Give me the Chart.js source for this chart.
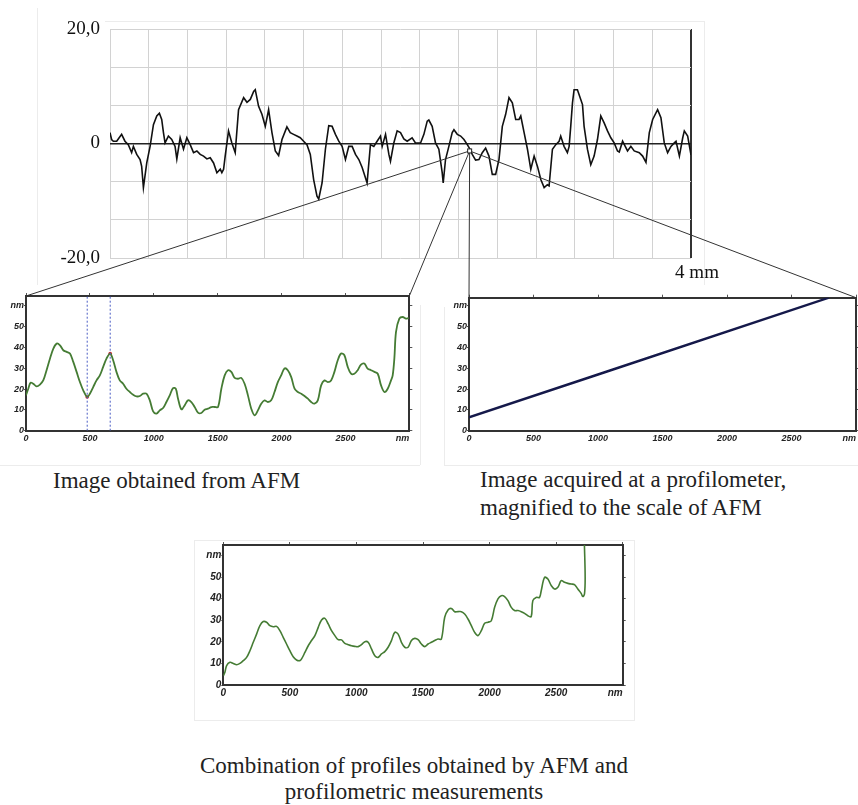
<!DOCTYPE html>
<html><head><meta charset="utf-8">
<script src="https://cdn.jsdelivr.net/npm/chart.js@4/dist/chart.umd.min.js"></script>
<style>
html,body{margin:0;padding:0;background:#fff;}
body{width:858px;height:805px;position:relative;overflow:hidden;}
.pos{position:absolute;}
.cap{position:absolute;font-family:'Liberation Serif','Times New Roman',serif;font-size:23px;color:#222;white-space:nowrap;}
.fl{position:absolute;background:#ececec;}
</style></head>
<body>
<!-- faint borders of the pasted pictures -->
<div class="fl" style="left:37px;top:8px;width:1px;height:277px"></div>
<div class="fl" style="left:105px;top:21px;width:600px;height:1px"></div>
<div class="fl" style="left:704px;top:21px;width:1px;height:264px"></div>
<div class="fl" style="left:0px;top:465px;width:420px;height:1px"></div>
<div class="fl" style="left:420px;top:305px;width:1px;height:160px"></div>
<div class="fl" style="left:444px;top:307px;width:1px;height:158px"></div>
<div class="fl" style="left:444px;top:465px;width:414px;height:1px"></div>
<div class="fl" style="left:194px;top:540px;width:440px;height:1px"></div>
<div class="fl" style="left:194px;top:540px;width:1px;height:180px"></div>
<div class="fl" style="left:634px;top:540px;width:1px;height:180px"></div>
<div class="fl" style="left:194px;top:720px;width:441px;height:1px"></div>

<canvas id="cTop" class="pos" style="left:0;top:0" width="720" height="290"></canvas>
<canvas id="cAfm" class="pos" style="left:0;top:285px" width="430" height="165"></canvas>
<canvas id="cProf" class="pos" style="left:443px;top:285px" width="415" height="165"></canvas>
<canvas id="cCombo" class="pos" style="left:195px;top:535px" width="440" height="175"></canvas>

<div class="cap" style="left:53px;top:467px;line-height:28px">Image obtained from AFM</div>
<div class="cap" style="left:480px;top:466px;line-height:28px">Image acquired at a profilometer,<br>magnified to the scale of AFM</div>
<div class="cap" style="left:164px;top:753px;width:500px;text-align:center;line-height:26px">Combination of profiles obtained by AFM and<br>profilometric measurements</div>

<canvas id="overlay" class="pos" style="left:0;top:0;pointer-events:none" width="858" height="805"></canvas>

<script>
// ---------- Top profile (profilometer, 4 mm, values in µm) ----------
const topX = [
0.000,0.011,0.023,0.046,0.057,0.080,0.103,0.126,0.149,0.161,
0.184,0.207,0.218,0.230,0.253,0.276,0.299,0.322,0.340,0.356,
0.368,0.379,0.402,0.425,0.448,0.460,0.483,0.506,0.529,0.552,
0.575,0.598,0.621,0.644,0.667,0.690,0.713,0.736,0.759,0.770,
0.782,0.793,0.816,0.839,0.862,0.885,0.920,0.943,0.966,0.989,
1.000,1.023,1.046,1.069,1.092,1.115,1.138,1.161,1.184,1.218,
1.241,1.264,1.287,1.310,1.333,1.356,1.379,1.402,1.425,1.437,
1.460,1.483,1.506,1.529,1.552,1.575,1.598,1.621,1.644,1.667,
1.690,1.713,1.736,1.770,1.793,1.816,1.839,1.862,1.874,1.897,
1.920,1.931,1.954,1.977,2.000,2.023,2.046,2.080,2.103,2.138,
2.161,2.184,2.195,2.218,2.241,2.264,2.287,2.294,2.310,2.333,
2.356,2.368,2.391,2.414,2.437,2.460,2.478,2.494,2.517,2.540,
2.563,2.586,2.609,2.632,2.655,2.678,2.701,2.724,2.747,2.770,
2.793,2.816,2.828,2.851,2.874,2.897,2.920,2.943,2.966,2.989,
3.011,3.023,3.046,3.069,3.092,3.103,3.126,3.149,3.161,3.172,
3.184,3.195,3.218,3.241,3.253,3.264,3.287,3.310,3.333,3.356,
3.379,3.402,3.425,3.448,3.471,3.494,3.506,3.529,3.563,3.586,
3.609,3.644,3.667,3.690,3.713,3.736,3.770,3.793,3.816,3.839,
3.862,3.885,3.897,3.920,3.943,3.954,3.977,4.000];
const topY = [
1.9,0.7,0.4,0.4,0.8,1.6,0.4,-0.2,-1.6,-0.5,
-1.9,-2.8,-4.0,-7.7,-3.4,-0.5,3.3,4.8,5.3,4.2,
1.9,0.1,1.3,0.7,-0.5,-2.7,1.0,-1.0,1.0,-0.2,
-1.6,-1.3,-1.9,-2.2,-2.7,-2.5,-3.4,-5.1,-4.5,-5.1,
-4.5,-2.2,2.2,0.1,-1.6,5.9,8.0,7.2,7.7,9.1,
9.4,6.5,5.1,3.0,5.9,1.9,-1.3,-2.1,0.7,2.9,
1.9,1.6,1.3,1.0,0.4,-0.2,-1.9,-6.3,-9.2,-9.7,
-6.9,-1.0,3.1,3.0,1.6,0.4,-0.5,-2.8,-0.5,-0.5,
-1.9,-2.8,-4.2,-6.9,-0.2,-0.5,0.4,1.3,-0.5,1.6,
-1.9,-3.1,0.1,2.2,1.9,0.8,0.4,1.0,0.1,0.1,
1.6,3.9,4.1,3.0,0.1,-1.0,-5.1,-6.9,-2.8,-0.5,
1.9,2.4,1.6,1.3,0.7,-0.2,-1.0,-1.9,-2.9,-2.8,
-1.6,-0.8,-2.2,-5.4,-5.4,-2.8,3.0,5.1,8.0,7.1,
4.2,4.2,4.8,1.9,-1.0,-4.5,-2.2,-4.0,-6.3,-7.7,
-7.2,-7.4,-1.0,-0.2,0.4,1.3,-0.5,-1.6,-0.5,3.0,
7.1,9.4,9.4,7.7,6.8,3.0,-1.0,-3.7,-2.2,0.7,
4.8,3.6,2.2,1.0,0.1,-1.3,-1.5,0.4,-1.3,-0.5,
-1.3,-1.6,-2.2,-3.3,1.9,4.2,5.9,4.5,0.1,-1.6,
-0.5,0.1,0.4,-2.2,1.0,2.2,1.3,-2.0];
const topGridX = [0,0.2667,0.5333,0.8,1.0667,1.3333,1.6,1.8667,2.1333,2.4,2.6667,2.9333,3.2,3.4667,3.7333,4];
const topGridY = [-20,-13.333,-6.667,0,6.667,13.333,20];
const topYLabels = {"20":"20,0","0":"0","-20":"-20,0"};
const topXLabel = "4 mm";
const zoomAt = {x:2.476, y:-1.3};   // spot magnified below

// ---------- AFM profile (nm) ----------
const afmX = [
0,18,36,57,83,109,135,161,188,214,
240,266,292,318,344,370,396,422,448,479,
500,526,552,578,604,630,659,682,708,734,
760,786,813,839,865,891,917,943,969,995,
1021,1047,1073,1099,1125,1151,1172,1190,1216,1242,
1268,1294,1320,1346,1372,1398,1424,1451,1477,1503,
1529,1555,1581,1607,1633,1659,1685,1711,1737,1763,
1789,1815,1841,1867,1893,1919,1945,1971,1997,2023,
2049,2076,2102,2128,2154,2180,2206,2232,2258,2284,
2310,2336,2362,2388,2414,2440,2466,2492,2518,2544,
2570,2596,2622,2648,2674,2701,2727,2753,2779,2805,
2831,2857,2870,2883,2896,2922,2948,2974,2995];
const afmY = [
17.0,20.2,23.1,22.6,21.3,22.2,24.2,29.1,34.7,39.5,
41.9,41.1,38.7,37.9,37.1,33.1,28.3,23.4,19.4,16.2,
17.8,21.0,24.2,26.6,30.7,34.7,37.1,33.9,28.3,24.2,
22.6,20.2,18.6,17.3,16.5,16.7,17.8,17.8,14.6,9.3,
8.2,9.8,10.9,13.8,17.0,20.5,20.2,15.4,10.3,12.2,
14.6,13.8,11.4,8.7,8.5,10.1,10.6,11.4,11.4,11.4,
20.2,26.6,29.1,28.3,25.4,25.0,25.4,22.6,17.0,10.6,
7.4,9.8,13.0,14.6,13.8,14.6,18.6,23.4,26.6,29.9,
29.1,25.8,20.2,18.6,17.8,16.7,15.4,13.8,13.0,14.6,
21.8,24.2,23.4,24.2,28.3,33.9,37.1,36.3,30.7,27.4,
27.4,29.1,31.8,32.3,29.9,29.1,28.3,27.4,21.8,18.6,
20.2,24.2,26.6,34.7,47.5,53.9,54.7,53.9,54.3];
const afmMarkX = [479, 659];
const afmMarkY = [16.2, 37.1];

// ---------- Profilometer, magnified to AFM scale ----------
const profX = [0, 1000, 2790];
const profY = [6.4, 27.0, 63.9];

// ---------- Combination ----------
const comboX = [
0,12,25,50,75,100,125,150,175,200,
225,250,275,300,325,350,375,400,425,450,
475,500,525,550,575,588,613,638,663,688,
713,738,763,788,813,838,863,888,913,938,
963,988,1013,1038,1063,1088,1113,1138,1163,1188,
1213,1238,1263,1288,1313,1338,1363,1388,1413,1438,
1463,1488,1513,1538,1563,1588,1613,1638,1663,1688,
1713,1738,1763,1788,1813,1838,1863,1888,1913,1938,
1963,1988,2013,2038,2063,2088,2113,2138,2163,2188,
2213,2238,2263,2288,2313,2325,2350,2375,2388,2413,
2438,2463,2488,2513,2538,2563,2588,2613,2638,2663,
2688,2700,2713,2718,2712];
const comboY = [
4.3,5.9,9.0,10.5,10.0,9.4,10.0,11.3,12.8,15.9,
19.8,23.6,27.5,29.4,29.1,27.5,27.0,27.2,25.2,22.1,
19.0,15.9,13.1,11.6,11.3,12.1,15.1,18.2,20.6,22.9,
26.7,30.1,30.9,28.3,25.2,22.9,21.0,20.9,19.3,18.7,
18.2,17.9,17.8,18.7,20.1,19.8,16.7,13.6,12.8,14.4,
15.5,17.5,20.6,24.4,23.6,19.8,17.5,17.5,20.6,21.6,
21.0,19.0,17.8,19.0,19.8,20.6,21.3,21.3,31.4,34.8,
35.5,34.0,34.0,34.0,32.9,30.6,27.5,24.4,22.9,25.2,
28.6,29.1,29.8,36.0,39.9,41.4,41.0,39.1,36.0,34.5,
34.5,34.0,33.2,32.1,31.7,39.1,40.6,40.6,43.7,49.9,
49.1,46.1,44.5,45.3,48.4,47.6,47.1,46.8,46.5,44.5,
42.5,41.0,42.2,50.0,66.0];

const nmTicksY = [0,10,20,30,40,50,60];
const nmTicksX = [0,500,1000,1500,2000,2500,3000];
const unitLabel = "nm";

const pts = (xs, ys) => xs.map((x, i) => ({x, y: ys[i]}));
const GREEN = '#457c34';

// ---------- top chart ----------
const serif = 'Liberation Serif';
const lastX = topGridX.length - 1;
const topChart = new Chart(document.getElementById('cTop'), {
  type: 'scatter',
  data: {datasets: [{data: pts(topX, topY), showLine: true, borderColor: '#111', borderWidth: 1.6,
    pointRadius: 0, tension: 0}]},
  options: {
    responsive: false, animation: false, devicePixelRatio: 1, events: [],
    layout: {padding: {top: 29, right: 29, left: 0, bottom: 0}},
    plugins: {legend: {display: false}, tooltip: {enabled: false}},
    scales: {
      x: {type: 'linear', min: 0, max: 4,
        afterBuildTicks: s => { s.ticks = topGridX.map(v => ({value: v})); },
        ticks: {autoSkip: false, maxRotation: 0, padding: 4, labelOffset: 6,
          callback: (v, i) => i === lastX ? topXLabel : '',
          font: {family: serif, size: 19}, color: '#111'},
        grid: {drawTicks: false,
          color: c => c.index === lastX ? '#333' : '#d2d2d2',
          lineWidth: c => c.index === lastX ? 2 : 1},
        border: {display: false},
        afterFit: s => { s.height = 32; }},
      y: {min: -20, max: 20,
        afterBuildTicks: s => { s.ticks = topGridY.map(v => ({value: v})); },
        ticks: {autoSkip: false, padding: 10,
          callback: v => topYLabels[String(v)] ?? '',
          font: {family: serif, size: 19}, color: '#111'},
        grid: {drawTicks: false,
          color: c => c.tick && c.tick.value === 0 ? '#222' : '#d2d2d2',
          lineWidth: c => c.tick && c.tick.value === 0 ? 1.6 : 1},
        border: {display: false},
        afterFit: s => { s.width = 110; }}
    }
  }
});

// ---------- small AFM-style charts ----------
const unitPlugin = {
  id: 'unitX',
  afterDraw(chart, args, opts) {
    const ctx = chart.ctx, a = chart.chartArea;
    ctx.save();
    ctx.font = `italic bold ${opts.size}px "Liberation Sans", Arial, sans-serif`;
    ctx.fillStyle = '#222';
    ctx.textAlign = 'right';
    ctx.textBaseline = 'top';
    ctx.fillText(unitLabel, a.right, a.bottom + 3);
    ctx.restore();
  }
};

function smallChart(id, ymax, dims, fontSize, datasets) {
  const f = {family: 'Liberation Sans', size: fontSize, weight: 'bold', style: 'italic'};
  const setY = s => { s.ticks = nmTicksY.map(v => ({value: v})); };
  const setX = s => { s.ticks = nmTicksX.map(v => ({value: v})); };
  return new Chart(document.getElementById(id), {
    type: 'scatter',
    data: {datasets},
    options: {
      responsive: false, animation: false, devicePixelRatio: 1, events: [],
      layout: {padding: 0},
      plugins: {legend: {display: false}, tooltip: {enabled: false}, unitX: {size: fontSize}},
      scales: {
        x: {type: 'linear', position: 'bottom', min: 0, max: 3000, afterBuildTicks: setX,
          ticks: {autoSkip: false, maxRotation: 0, padding: 2, font: f, color: '#222',
            callback: v => v === 3000 ? '' : v},
          grid: {drawOnChartArea: false, drawTicks: false},
          border: {color: '#333', width: 2},
          afterFit: s => { s.height = dims.bottom; }},
        x2: {type: 'linear', position: 'top', min: 0, max: 3000, afterBuildTicks: setX,
          ticks: {display: false},
          grid: {drawOnChartArea: false, tickLength: 3, color: '#555'},
          border: {color: '#333', width: 2},
          afterFit: s => { s.height = dims.top; }},
        y: {type: 'linear', position: 'left', min: 0, max: ymax, afterBuildTicks: setY,
          ticks: {autoSkip: false, padding: 0, font: f, color: '#222',
            callback: v => v === 60 ? unitLabel : v},
          grid: {drawOnChartArea: false, tickLength: 2, color: '#555'},
          border: {color: '#333', width: 2},
          afterFit: s => { s.width = dims.left; }},
        y2: {type: 'linear', position: 'right', min: 0, max: ymax, afterBuildTicks: setY,
          ticks: {display: false},
          grid: {drawOnChartArea: false, tickLength: 3, color: '#555'},
          border: {color: '#333', width: 2},
          afterFit: s => { s.width = dims.right; }}
      }
    },
    plugins: [unitPlugin]
  });
}

const afmMax = 64.8;
const afmChart = smallChart('cAfm', afmMax, {left: 26, right: 20.7, top: 11, bottom: 19.3}, 9, [
  ...afmMarkX.map(x => ({data: [{x, y: 0}, {x, y: afmMax}], showLine: true, borderColor: '#4a5cc4',
    borderWidth: 1, borderDash: [2, 2], pointRadius: 0})),
  {data: pts(afmX, afmY), showLine: true, borderColor: GREEN, borderWidth: 1.8, pointRadius: 0, tension: 0.35},
  {data: pts(afmMarkX, afmMarkY), showLine: false, pointRadius: 1.8, pointBackgroundColor: '#d42020',
    pointBorderWidth: 0}
]);

const profChart = smallChart('cProf', 63.9, {left: 26, right: 1.3, top: 12.7, bottom: 19.3}, 9, [
  {data: pts(profX, profY), showLine: true, borderColor: '#15194a', borderWidth: 2.4, pointRadius: 0, tension: 0}
]);

const comboChart = smallChart('cCombo', 64.9, {left: 28.3, right: 12.3, top: 10, bottom: 25}, 10, [
  {data: pts(comboX, comboY), showLine: true, borderColor: GREEN, borderWidth: 1.6, pointRadius: 0, tension: 0.35}
]);

// ---------- connector lines (zoom-in guides) ----------
function pageOf(chart, px, py) {
  const r = chart.canvas.getBoundingClientRect();
  return {x: r.left + px, y: r.top + py};
}
const ov = document.getElementById('overlay').getContext('2d');
const zp = pageOf(topChart, topChart.scales.x.getPixelForValue(zoomAt.x), topChart.scales.y.getPixelForValue(zoomAt.y));
const aA = afmChart.chartArea, pA = profChart.chartArea;
const targets = [
  pageOf(afmChart, aA.left, aA.top), pageOf(afmChart, aA.right, aA.top),
  pageOf(profChart, pA.left, pA.top), pageOf(profChart, pA.right, pA.top)
];
ov.strokeStyle = '#333';
ov.lineWidth = 1;
targets.forEach(t => {
  ov.beginPath(); ov.moveTo(zp.x, zp.y); ov.lineTo(t.x, t.y); ov.stroke();
});
ov.fillStyle = '#fff';
ov.fillRect(zp.x - 2, zp.y - 2, 4, 4);
ov.strokeStyle = '#222';
ov.strokeRect(zp.x - 2, zp.y - 2, 4, 4);
</script>
</body></html>
